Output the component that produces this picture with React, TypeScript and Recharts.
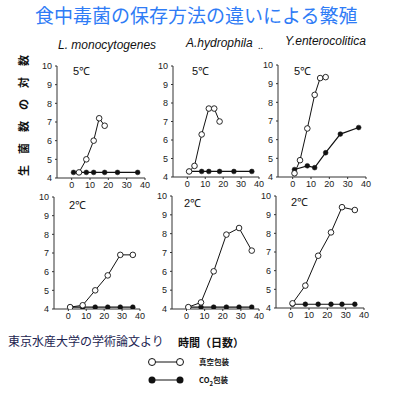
import { LineChart, Line, XAxis, YAxis } from "recharts";

// log10 counts vs storage days
const lmono5Vacuum = [
  { day: 4, log: 4.3 }, { day: 8, log: 5.0 }, { day: 12, log: 6.0 }, { day: 15, log: 7.2 }, { day: 18, log: 6.8 },
];
const lmono5Co2 = [
  { day: 1, log: 4.3 }, { day: 8, log: 4.3 }, { day: 12, log: 4.3 }, { day: 18, log: 4.3 }, { day: 25, log: 4.3 }, { day: 36, log: 4.3 },
];
const ahydro5Vacuum = [
  { day: 1, log: 4.3 }, { day: 4, log: 4.6 }, { day: 8, log: 6.3 }, { day: 12, log: 7.7 }, { day: 15, log: 7.7 }, { day: 18, log: 7.0 },
];
const ahydro5Co2 = [
  { day: 1, log: 4.3 }, { day: 8, log: 4.3 }, { day: 12, log: 4.3 }, { day: 18, log: 4.3 }, { day: 26, log: 4.3 }, { day: 36, log: 4.3 },
];
const yent5Vacuum = [
  { day: 1, log: 4.2 }, { day: 4, log: 4.9 }, { day: 8, log: 6.6 }, { day: 12, log: 8.4 }, { day: 15, log: 9.3 }, { day: 18, log: 9.35 },
];
const yent5Co2 = [
  { day: 1, log: 4.4 }, { day: 8, log: 4.6 }, { day: 12, log: 4.5 }, { day: 18, log: 5.3 }, { day: 26, log: 6.3 }, { day: 36, log: 6.65 },
];
const lmono2Vacuum = [
  { day: 1, log: 4.1 }, { day: 8, log: 4.2 }, { day: 15, log: 5.0 }, { day: 22, log: 5.8 }, { day: 29, log: 6.9 }, { day: 36, log: 6.9 },
];
const lmono2Co2 = [
  { day: 1, log: 4.1 }, { day: 8, log: 4.1 }, { day: 15, log: 4.1 }, { day: 22, log: 4.1 }, { day: 29, log: 4.1 }, { day: 36, log: 4.1 },
];
const ahydro2Vacuum = [
  { day: 1, log: 4.1 }, { day: 8, log: 4.35 }, { day: 15, log: 6.0 }, { day: 22, log: 7.95 }, { day: 29, log: 8.3 }, { day: 36, log: 7.1 },
];
const ahydro2Co2 = [
  { day: 1, log: 4.1 }, { day: 8, log: 4.1 }, { day: 15, log: 4.1 }, { day: 22, log: 4.1 }, { day: 29, log: 4.1 }, { day: 36, log: 4.1 },
];
const yent2Vacuum = [
  { day: 1, log: 4.25 }, { day: 8, log: 5.2 }, { day: 15, log: 6.8 }, { day: 22, log: 8.05 }, { day: 28, log: 9.4 }, { day: 35, log: 9.25 },
];
const yent2Co2 = [
  { day: 1, log: 4.2 }, { day: 8, log: 4.2 }, { day: 15, log: 4.2 }, { day: 22, log: 4.2 }, { day: 28, log: 4.2 }, { day: 35, log: 4.2 },
];

const dayTicks = [0, 10, 20, 30, 40];
const logTicks = [4, 5, 6, 7, 8, 9, 10];
const species = ["L. monocytogenes", "A.hydrophila", "Y.enterocolitica"];
const yLabel = "生菌数の対数";

const YW = 24;
const XH = 16;
const TM = 4;
const RM = 6;
const tickStyle = { fontSize: 9, fill: "#222", fontFamily: "Liberation Sans, Arial, sans-serif" };

type Pt = { day: number; log: number };

function Panel({ x, y, w, h, vac, co2, temp, tx, ty }: { x: number; y: number; w: number; h: number; vac: Pt[]; co2: Pt[]; temp: string; tx: number; ty: number }) {
  return (
    <>
      <div style={{ position: "absolute", left: x - YW, top: y - TM }}>
        <LineChart width={w + YW + RM} height={h + TM + XH} margin={{ top: TM, right: RM, left: 0, bottom: 0 }}>
          <XAxis type="number" dataKey="day" domain={[-8, 40]} ticks={dayTicks} interval={0} allowDataOverflow
            height={XH} tick={tickStyle} tickSize={2} tickMargin={2} stroke="#333" />
          <YAxis type="number" dataKey="log" domain={[4, 10]} ticks={logTicks} interval={0} allowDataOverflow
            width={YW} tick={tickStyle} tickSize={2} tickMargin={3} stroke="#333" />
          <Line data={co2} dataKey="log" stroke="#111" strokeWidth={1.2} isAnimationActive={false}
            dot={{ r: 2.4, fill: "#111", stroke: "#111", strokeWidth: 0.5 }} />
          <Line data={vac} dataKey="log" stroke="#111" strokeWidth={1} isAnimationActive={false}
            dot={{ r: 2.8, fill: "#fff", stroke: "#111", strokeWidth: 0.9 }} />
        </LineChart>
      </div>
      <div style={{ position: "absolute", left: tx, top: ty - 7, fontSize: 11, fontFamily: "Liberation Sans, Arial, sans-serif", color: "#111" }}>{temp}</div>
    </>
  );
}

export default function App() {
  const jp = "'Noto Sans CJK JP', sans-serif";
  return (
    <div style={{ position: "absolute", left: 0, top: 0, width: 407, height: 398, background: "#fff", overflow: "hidden" }}>
      <div style={{ position: "absolute", left: 35, top: 3, fontSize: 19, lineHeight: "24px", color: "#2f7cf6", fontFamily: jp, whiteSpace: "nowrap" }}>
        食中毒菌の保存方法の違いによる繁殖
      </div>
      {species.map((s, i) => (
        <div key={s} style={{ position: "absolute", left: [58, 186, 285][i], top: [38, 36, 34][i], fontSize: 12, fontStyle: "italic", fontFamily: "Liberation Sans, Arial, sans-serif", color: "#111", whiteSpace: "nowrap" }}>
          {s}
        </div>
      ))}
      <div style={{ position: "absolute", left: 258, top: 40, fontSize: 10, color: "#111" }}>..</div>
      <div style={{
        position: "absolute", left: 23 - 70, top: 117 - 8, width: 140, height: 16, textAlign: "center",
        transform: "rotate(-90deg)", transformOrigin: "center", fontSize: 11, fontWeight: 700, fontFamily: jp,
        color: "#111", letterSpacing: 11, lineHeight: "16px", whiteSpace: "nowrap", textIndent: 11,
      }}>
        {yLabel}
      </div>

      <Panel x={57} y={66} w={88} h={112} vac={lmono5Vacuum} co2={lmono5Co2} temp="5℃" tx={73} ty={70} />
      <Panel x={173} y={66} w={86} h={111} vac={ahydro5Vacuum} co2={ahydro5Co2} temp="5℃" tx={192} ty={70} />
      <Panel x={278} y={65} w={88} h={112} vac={yent5Vacuum} co2={yent5Co2} temp="5℃" tx={294} ty={70} />
      <Panel x={54} y={197} w={86} h={112} vac={lmono2Vacuum} co2={lmono2Co2} temp="2℃" tx={69} ty={204} />
      <Panel x={172} y={196} w={87} h={113} vac={ahydro2Vacuum} co2={ahydro2Co2} temp="2℃" tx={184} ty={202} />
      <Panel x={276} y={196} w={88} h={112} vac={yent2Vacuum} co2={yent2Co2} temp="2℃" tx={291} ty={201} />

      <div style={{ position: "absolute", left: 8, top: 333, fontSize: 12, fontFamily: jp, color: "#1c2350", whiteSpace: "nowrap", lineHeight: "16px" }}>
        東京水産大学の学術論文より
      </div>
      <div style={{ position: "absolute", left: 178, top: 334, fontSize: 11, fontWeight: 700, fontFamily: jp, color: "#111", whiteSpace: "nowrap", lineHeight: "16px" }}>
        時間（日数）
      </div>

      <svg style={{ position: "absolute", left: 140, top: 352 }} width={60} height={36}>
        <line x1={12} y1={10} x2={40} y2={10} stroke="#111" strokeWidth={1} />
        <circle cx={12} cy={10} r={3.5} fill="#fff" stroke="#111" strokeWidth={1} />
        <circle cx={40} cy={10} r={3.5} fill="#fff" stroke="#111" strokeWidth={1} />
        <line x1={12} y1={28} x2={40} y2={28} stroke="#111" strokeWidth={1} />
        <circle cx={12} cy={28} r={3.5} fill="#111" />
        <circle cx={40} cy={28} r={3.5} fill="#111" />
      </svg>
      <div style={{ position: "absolute", left: 199, top: 356, fontSize: 7.5, fontWeight: 700, fontFamily: jp, color: "#111", lineHeight: "12px" }}>真空包装</div>
      <div style={{ position: "absolute", left: 199, top: 374, fontSize: 7.5, fontWeight: 700, fontFamily: jp, color: "#111", lineHeight: "12px", whiteSpace: "nowrap" }}>
        CO<sub style={{ fontSize: 6 }}>2</sub>包装
      </div>
    </div>
  );
}
